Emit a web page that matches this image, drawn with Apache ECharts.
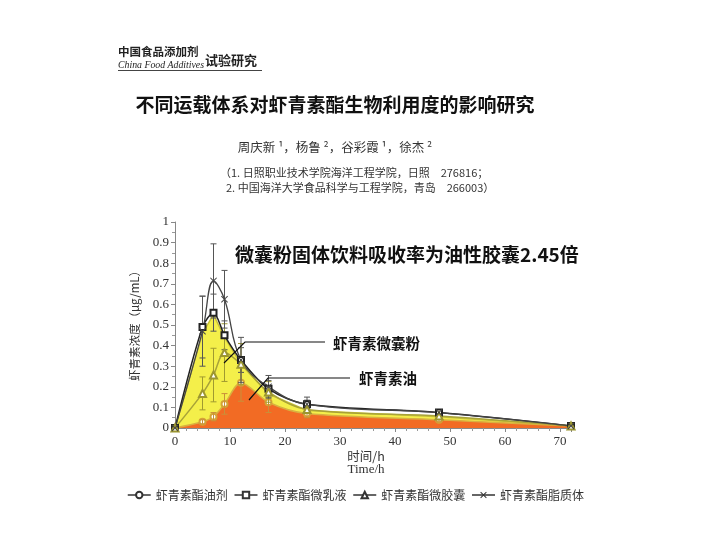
<!DOCTYPE html>
<html><head><meta charset="utf-8">
<script src="https://cdn.jsdelivr.net/npm/echarts@6/dist/echarts.min.js"></script>
<style>html,body{margin:0;padding:0;background:#fff}#c{width:720px;height:540px}</style>
</head><body><div id="c"></div>
<script>
// ---- data ----
const hours = [0, 5, 7, 9, 12, 17, 24, 48, 72];
const oilVals = [0, 0.03, 0.055, 0.117, 0.22, 0.125, 0.07, 0.04, 0.01];
const emulsionVals = [0, 0.49, 0.56, 0.45, 0.33, 0.19, 0.115, 0.075, 0.01];
const capsuleVals = [0, 0.168, 0.257, 0.366, 0.31, 0.175, 0.09, 0.058, 0.01];
const liposomeVals = [0, 0.47, 0.714, 0.625, 0.33, 0.2, 0.115, 0.075, 0.01];
const oilErr = [0, 0.01, 0.02, 0.05, 0.09, 0.05, 0.02, 0.01, 0];
const emulsionErr = [0, 0.15, 0.09, 0.07, 0.06, 0.04, 0.02, 0.01, 0];
const capsuleErr = [0, 0.08, 0.13, 0.14, 0.1, 0.05, 0.02, 0.01, 0];
const liposomeErr = [0, 0.17, 0.18, 0.14, 0.11, 0.055, 0.035, 0, 0];
const yellowHighlight = [0, 0.46, 0.55, 0.44, 0.31, 0.165, 0.085, 0.055, 0.01];
const seriesNames = ['虾青素酯油剂', '虾青素酯微乳液', '虾青素酯微胶囊', '虾青素酯脂质体'];
const yTicks = [0, 0.1, 0.2, 0.3, 0.4, 0.5, 0.6, 0.7, 0.8, 0.9, 1];
const xTicks = [0, 10, 20, 30, 40, 50, 60, 70];

const pairs = v => hours.map((h, i) => [h, v[i]]);
const errData = (v, e) => hours.map((h, i) => [h, v[i] - e[i], v[i] + e[i]]).filter((d, i) => e[i] > 0);

function errSeries(v, e, color) {
  return {
    type: 'custom', z: 3, silent: true,
    data: errData(v, e),
    renderItem: function (params, api) {
      const x = api.coord([api.value(0), 0])[0];
      const lo = api.coord([api.value(0), api.value(1)])[1];
      const hi = api.coord([api.value(0), api.value(2)])[1];
      const st = { stroke: color, lineWidth: 1 };
      return { type: 'group', children: [
        { type: 'line', shape: { x1: x, y1: lo, x2: x, y2: hi }, style: st },
        { type: 'line', shape: { x1: x - 3, y1: hi, x2: x + 3, y2: hi }, style: st },
        { type: 'line', shape: { x1: x - 3, y1: lo, x2: x + 3, y2: lo }, style: st }
      ] };
    }
  };
}

const crossPath = 'path://M0,1L1,0L5,4L9,0L10,1L6,5L10,9L9,10L5,6L1,10L0,9L4,5Z';
const cjk = '"Noto Sans CJK SC", sans-serif';
const serif = '"Liberation Serif", "DejaVu Serif", serif';

const chart = echarts.init(document.getElementById('c'));
chart.setOption({
  backgroundColor: '#fff',
  animation: false,
  grid: { left: 175, top: 222, width: 396, height: 206 },
  xAxis: {
    type: 'value', min: 0, max: 72, interval: 10,
    axisLine: { lineStyle: { color: '#888' } },
    axisTick: { length: 4, lineStyle: { color: '#888' } },
    minorTick: { show: true, splitNumber: 5, length: 3, lineStyle: { color: '#999' } },
    splitLine: { show: false },
    axisLabel: { color: '#333', fontFamily: serif, fontSize: 13, margin: 7,
      formatter: v => xTicks.indexOf(v) >= 0 ? String(v) : '' }
  },
  yAxis: {
    type: 'value', min: 0, max: 1, interval: 0.1,
    axisLine: { show: true, lineStyle: { color: '#888' } },
    axisTick: { show: true, length: 4, lineStyle: { color: '#888' } },
    minorTick: { show: true, splitNumber: 2, length: 3, lineStyle: { color: '#999' } },
    splitLine: { show: false },
    axisLabel: { color: '#333', fontFamily: serif, fontSize: 13, margin: 6,
      formatter: v => { const t = yTicks.find(k => Math.abs(k - v) < 1e-6); return t === undefined ? '' : String(t); } }
  },
  legend: {
    data: seriesNames, left: 122, top: 484, itemWidth: 23, itemHeight: 8, itemGap: 6,
    textStyle: { fontFamily: cjk, fontSize: 12, color: '#333' },
    lineStyle: { color: '#333', width: 1.5 },
    itemStyle: { color: '#333', borderWidth: 1 }
  },
  series: [
    { type: 'line', name: 'highlight', data: pairs(yellowHighlight), symbol: 'none', z: 1,
      lineStyle: { color: '#c9c23a', width: 1.5 }, areaStyle: { color: '#f4ef4a', opacity: 1 }, silent: true },
    { type: 'line', name: seriesNames[0], data: pairs(oilVals), smooth: 0.3, z: 2,
      symbol: 'emptyCircle', symbolSize: 6,
      itemStyle: { color: '#d4a437', borderWidth: 1.2 },
      lineStyle: { color: '#d9b040', width: 1.5 },
      areaStyle: { color: '#f26b24', opacity: 1 } },
    { type: 'line', name: seriesNames[1], data: pairs(emulsionVals), smooth: 0.3, z: 4,
      symbol: 'emptyRect', symbolSize: 6,
      itemStyle: { color: '#222', borderWidth: 1.1 },
      lineStyle: { color: '#222', width: 1.5 } },
    { type: 'line', name: seriesNames[2], data: pairs(capsuleVals), smooth: 0.3, z: 4,
      symbol: 'emptyTriangle', symbolSize: 7,
      itemStyle: { color: '#9c9630', borderWidth: 1.1 },
      lineStyle: { color: '#a8a238', width: 1.5 } },
    { type: 'line', name: seriesNames[3], data: pairs(liposomeVals), smooth: 0.4, z: 4,
      symbol: crossPath, symbolSize: 7,
      itemStyle: { color: '#444' },
      lineStyle: { color: '#444', width: 1.3 } },
    errSeries(oilVals, oilErr, '#c8903a'),
    errSeries(emulsionVals, emulsionErr, '#555'),
    errSeries(capsuleVals, capsuleErr, '#a09a30'),
    errSeries(liposomeVals, liposomeErr, '#555')
  ],
  graphic: [
    { type: 'text', left: 118, top: 46, style: { text: '中国食品添加剂', font: 'bold 11.5px ' + cjk, fill: '#222' } },
    { type: 'text', left: 118, top: 60, style: { text: 'China Food Additives', font: 'italic 9.8px ' + serif, fill: '#222' } },
    { type: 'text', left: 205, top: 54, style: { text: '试验研究', font: 'bold 13px ' + cjk, fill: '#222' } },
    { type: 'line', shape: { x1: 118, y1: 70.5, x2: 262, y2: 70.5 }, style: { stroke: '#444', lineWidth: 1 } },
    { type: 'text', x: 335, y: 105, style: { text: '不同运载体系对虾青素酯生物利用度的影响研究', font: 'bold 19px ' + cjk, fill: '#111', textAlign: 'center', textVerticalAlign: 'middle' } },
    { type: 'text', x: 335, y: 147, style: { text: '周庆新 ¹，杨鲁 ²，谷彩霞 ¹，徐杰 ²', font: '12.5px ' + cjk, fill: '#333', textAlign: 'center', textVerticalAlign: 'middle' } },
    { type: 'text', x: 220, y: 173, style: { text: '（1. 日照职业技术学院海洋工程学院，日照　276816；', font: '11px ' + cjk, fill: '#333', textVerticalAlign: 'middle' } },
    { type: 'text', x: 226, y: 188, style: { text: '2. 中国海洋大学食品科学与工程学院，青岛　266003）', font: '11px ' + cjk, fill: '#333', textVerticalAlign: 'middle' } },
    { type: 'text', x: 235, y: 255, style: { text: '微囊粉固体饮料吸收率为油性胶囊2.45倍', font: 'bold 19px ' + cjk, fill: '#111', textVerticalAlign: 'middle' }, z: 10 },
    { type: 'polyline', shape: { points: [[224, 363], [245, 342], [325, 342]] }, style: { stroke: '#111', lineWidth: 1.2, fill: null }, z: 10 },
    { type: 'polyline', shape: { points: [[249, 400], [268, 378], [350, 378]] }, style: { stroke: '#111', lineWidth: 1.2, fill: null }, z: 10 },
    { type: 'text', x: 333, y: 343, style: { text: '虾青素微囊粉', font: 'bold 14.5px ' + cjk, fill: '#111', textVerticalAlign: 'middle' }, z: 10 },
    { type: 'text', x: 359, y: 378, style: { text: '虾青素油', font: 'bold 14.5px ' + cjk, fill: '#111', textVerticalAlign: 'middle' }, z: 10 },
    { type: 'text', x: 135, y: 323, rotation: Math.PI / 2, style: { text: '虾青素浓度（μg/mL）', font: '11.5px ' + cjk, fill: '#333', textAlign: 'center', textVerticalAlign: 'middle' } },
    { type: 'text', x: 366, y: 456, style: { text: '时间/h', font: '12.5px ' + cjk, fill: '#333', textAlign: 'center', textVerticalAlign: 'middle' } },
    { type: 'text', x: 366, y: 470, style: { text: 'Time/h', font: '13px ' + serif, fill: '#333', textAlign: 'center', textVerticalAlign: 'middle' } }
  ]
});
</script></body></html>
